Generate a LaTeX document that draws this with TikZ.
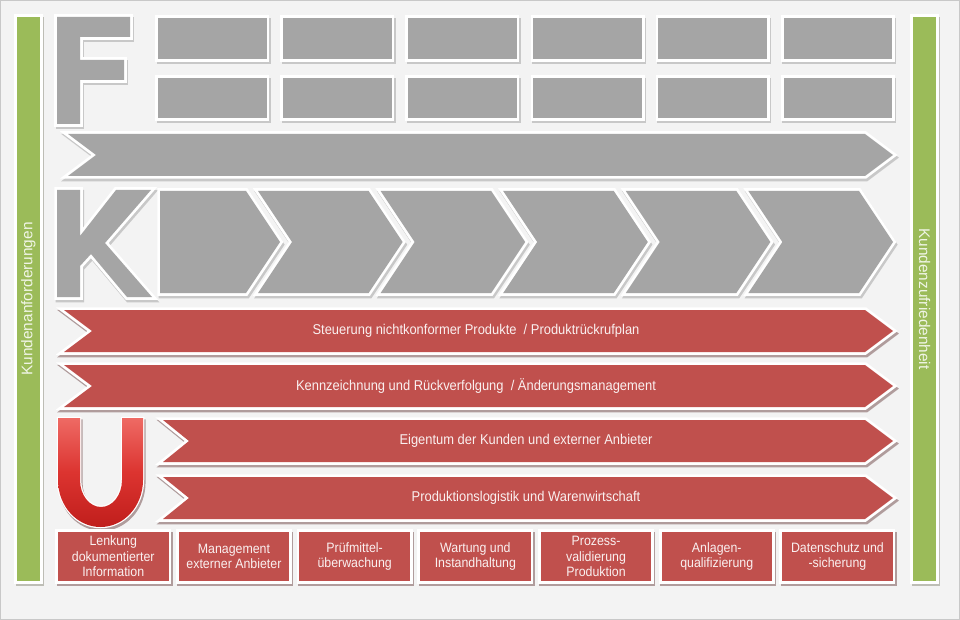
\documentclass[tikz,border=0pt]{standalone}
\usepackage{fontspec}
\setmainfont{Liberation Sans}
\newfontfamily\condf[FakeStretch=0.91]{Liberation Sans}
\definecolor{bgc}{HTML}{F3F3F3}
\definecolor{framec}{HTML}{C8C8C8}
\definecolor{greyc}{HTML}{A5A5A5}
\definecolor{redc}{HTML}{C0504D}
\definecolor{greenc}{HTML}{9BBB59}
\definecolor{shc}{HTML}{C8C8C8}
\definecolor{shr}{HTML}{B09C9C}
\definecolor{shg}{HTML}{BDBDB5}
\definecolor{txtc}{HTML}{FAF0F0}
\definecolor{sidec}{HTML}{F0F5E6}
\definecolor{utop}{HTML}{EE6A64}
\definecolor{umid}{HTML}{DC3430}
\definecolor{ubot}{HTML}{C01E1C}
\newcommand\dsh[4][5.5pt]{%
  \path[draw=#3, fill=#3, line width=#1, line join=miter, shift={(1.3,2.6)}] #4;
  \path[draw=white, fill=white, line width=#1, line join=miter] #4;
  \path[#2] #4;
}
\begin{document}
\begin{tikzpicture}[x=1pt,y=-1pt,
  lbl/.style={text=txtc, font=\condf\fontsize{14.2}{15.5}\selectfont, align=center, inner sep=0pt},
  boxlbl/.style={text=txtc, font=\condf\fontsize{13.6}{15.6}\selectfont, align=center, inner sep=0pt},
  sidetxt/.style={text=sidec, font=\fontsize{15.4}{17}\selectfont, inner sep=0pt}]
\useasboundingbox (0,0) rectangle (960,620);
\fill[bgc] (0,0) rectangle (960,620);
\draw[framec, line width=1pt] (0.5,0.5) rectangle (959.5,619.5);

% side bars
\dsh{fill=greenc}{shg}{(17,17) rectangle (40,581)}
\dsh{fill=greenc}{shg}{(913,17) rectangle (936,581)}
\node[sidetxt, rotate=90] (kanf) at (28.5,299) {Kundenanforderungen};
\node[sidetxt, rotate=-90] (kzuf) at (924.5,299) {Kundenzufriedenheit};

% F
\dsh{fill=greyc}{shc}{(57,17) -- (130,17) -- (130,37) -- (80,37) -- (80,60) -- (124,60) -- (124,80) -- (80,80) -- (80,124) -- (57,124) -- cycle}
\foreach \i in {0,...,5}{
  \pgfmathsetmacro\xa{158+125.1*\i}
  \pgfmathsetmacro\xb{\xa+108.5}
  \dsh{fill=greyc}{shc}{(\xa,18) rectangle (\xb,59)}
  \dsh{fill=greyc}{shc}{(\xa,78) rectangle (\xb,118)}
}
\dsh{fill=greyc}{shc}{(68,134) -- (865,134) -- (893,155) -- (865,176) -- (68,176) -- (96,155) -- cycle}

% K
\dsh{fill=greyc}{shc}{(57,190) -- (80,190) -- (80,236) -- (116,190) -- (151,190) -- (105,243) -- (152,297) -- (127,297) -- (91,254) -- (80,266) -- (80,297) -- (57,297) -- cycle}
\dsh{fill=greyc}{shc}{(160,191) -- (246,191) -- (280,242) -- (246,293) -- (160,293) -- cycle}
\foreach \i in {1,...,5}{
  \pgfmathsetmacro\tip{280+122.6*\i}
  \pgfmathsetmacro\lft{280+122.6*(\i-1)-22}
  \pgfmathsetmacro\cor{\tip-34}
  \pgfmathsetmacro\nch{\lft+34}
  \dsh{fill=greyc}{shc}{(\lft,191) -- (\cor,191) -- (\tip,242) -- (\cor,293) -- (\lft,293) -- (\nch,242) -- cycle}
}

% red arrows
\dsh{fill=redc}{shr}{(64,310) -- (865,310) -- (893,331) -- (865,352) -- (64,352) -- (92,331) -- cycle}
\dsh{fill=redc}{shr}{(64,365) -- (865,365) -- (893,386) -- (865,407) -- (64,407) -- (92,386) -- cycle}
\dsh{fill=redc}{shr}{(163,420) -- (865,420) -- (893,441) -- (865,462) -- (163,462) -- (189,441) -- cycle}
\dsh{fill=redc}{shr}{(163,477) -- (865,477) -- (893,498) -- (865,519) -- (163,519) -- (189,498) -- cycle}
\node[lbl] (a1) at (476,331) {Steuerung nichtkonformer Produkte \ / Produktrückrufplan};
\node[lbl] (a2) at (476,386) {Kennzeichnung und Rückverfolgung \ / Änderungsmanagement};
\node[lbl] (a3) at (526,441) {Eigentum der Kunden und externer Anbieter};
\node[lbl] (a4) at (526,498) {Produktionslogistik und Warenwirtschaft};

% U
\dsh[2.5pt]{top color=utop, bottom color=ubot, middle color=umid}{shr}{(58,418) -- (80,418) -- (80,480) .. controls (80,495) and (89.4,507) .. (101,507) .. controls (112.6,507) and (122,495) .. (122,480) -- (122,418) -- (143,418) -- (143,480) .. controls (143,506) and (124,527) .. (100.5,527) .. controls (77,527) and (58,506) .. (58,480) -- cycle}

% bottom boxes
\foreach \i/\t in {0/{Lenkung\\dokumentierter\\Information},1/{Management\\externer Anbieter},2/{Prüfmittel-\\überwachung},3/{Wartung und\\Instandhaltung},4/{Prozess-\\validierung\\Produktion},5/{Anlagen-\\qualifizierung},6/{Datenschutz und\\-sicherung}}{
  \pgfmathsetmacro\xa{58+120.7*\i}
  \pgfmathsetmacro\xb{\xa+110.5}
  \pgfmathsetmacro\xc{\xa+55.25}
  \dsh{fill=redc}{shr}{(\xa,532) rectangle (\xb,581)}
  \node[boxlbl] (b\i) at (\xc,556.5) {\t};
}
\end{tikzpicture}
\end{document}
